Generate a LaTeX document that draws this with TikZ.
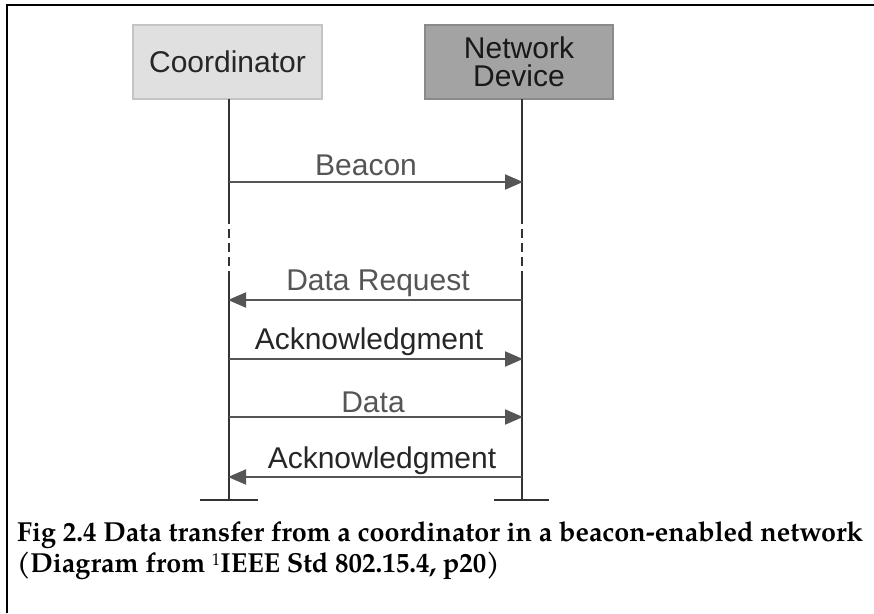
\documentclass[tikz,border=0pt]{standalone}
\usepackage{fontspec}
\setmainfont{Liberation Sans}
\newfontfamily\capfont{texgyrepagella}[Extension=.otf,UprightFont=*-regular,BoldFont=*-bold,FakeStretch=0.98]
\usetikzlibrary{arrows.meta}
\definecolor{boxlight}{HTML}{E0E0E0}
\definecolor{boxlightedge}{HTML}{C4C4C4}
\definecolor{boxdark}{HTML}{A3A3A3}
\definecolor{boxdarkedge}{HTML}{8A8A8A}
\definecolor{lifeline}{HTML}{333333}
\definecolor{msg}{HTML}{555555}
\tikzset{
  entity/.style={draw, line width=1.5pt, minimum width=189pt, minimum height=74pt,
    inner sep=0pt, align=center, font=\fontsize{30}{30}\selectfont},
  life/.style={draw=lifeline, line width=2pt},
  msgarrow/.style={draw=msg, line width=2pt, -{Triangle[length=18pt,width=15pt]}},
  msglabel/.style={font=\fontsize{30}{30}\selectfont, inner sep=0pt},
  endbar/.style={draw=lifeline, line width=2.5pt},
  caption/.style={font=\capfont\bfseries\fontsize{27.5}{27.5}\selectfont, inner sep=0pt, anchor=base west}
}
\begin{document}
\begin{tikzpicture}[x=1pt,y=-1pt]
  \useasboundingbox (0,0) rectangle (874,613);
  % frame along the top and left edges
  \draw[line width=2pt] (7,613) -- (7,5) -- (874,5);

  % the two parties
  \node[entity, fill=boxlight, draw=boxlightedge, text=black!85] (coord) at (227.5,62) {Coordinator};
  \node[entity, fill=boxdark, draw=boxdarkedge, text=black!90, minimum width=188pt] (dev) at (519,62)
    {Network\\[-2pt]Device};

  % lifeline points
  \coordinate (ctop) at (229,99);
  \coordinate (ntop) at (522,99);
  \coordinate (cgap1) at (229,215);
  \coordinate (ngap1) at (522,215);
  \coordinate (cgap2) at (229,280);
  \coordinate (ngap2) at (522,280);
  \coordinate (cend) at (229,500);
  \coordinate (nend) at (522,500);

  \draw[life] (ctop) -- (cgap1);
  \draw[life, dash pattern=on 9pt off 5pt] (cgap1) -- (cgap2);
  \draw[life] (cgap2) -- (cend);
  \draw[life] (ntop) -- (ngap1);
  \draw[life, dash pattern=on 9pt off 5pt] (ngap1) -- (ngap2);
  \draw[life] (ngap2) -- (nend);

  % end bars
  \coordinate (cbarL) at (200,500);
  \coordinate (cbarR) at (258,500);
  \coordinate (nbarL) at (494,500);
  \coordinate (nbarR) at (549,500);
  \draw[endbar] (cbarL) -- (cbarR);
  \draw[endbar] (nbarL) -- (nbarR);

  % message endpoints
  \coordinate (c1) at (229,182); \coordinate (n1) at (523,182);
  \coordinate (c2) at (228,300); \coordinate (n2) at (522,300);
  \coordinate (c3) at (229,359); \coordinate (n3) at (523,359);
  \coordinate (c4) at (229,417); \coordinate (n4) at (523,417);
  \coordinate (c5) at (228,477); \coordinate (n5) at (522,477);

  \draw[msgarrow] (c1) -- (n1);
  \draw[msgarrow] (n2) -- (c2);
  \draw[msgarrow] (c3) -- (n3);
  \draw[msgarrow] (c4) -- (n4);
  \draw[msgarrow] (n5) -- (c5);

  \node[msglabel, text=msg] (lbeacon) at (366,165) {Beacon};
  \node[msglabel, text=msg] (lreq) at (378,283) {Data Request};
  \node[msglabel, text=black!85] (lack1) at (369,342) {Acknowledgment};
  \node[msglabel, text=msg] (ldata) at (373,402) {Data};
  \node[msglabel, text=black!85] (lack2) at (382,461) {Acknowledgment};

  % caption
  \node[caption] (cap1) at (17,541) {Fig 2.4 Data transfer from a coordinator in a beacon-enabled network};
  \node[caption] (cap2) at (17,572) {(Diagram from {\mdseries\fontsize{17}{17}\selectfont\raisebox{7pt}{1}}IEEE Std 802.15.4, p20)};
\end{tikzpicture}
\end{document}
